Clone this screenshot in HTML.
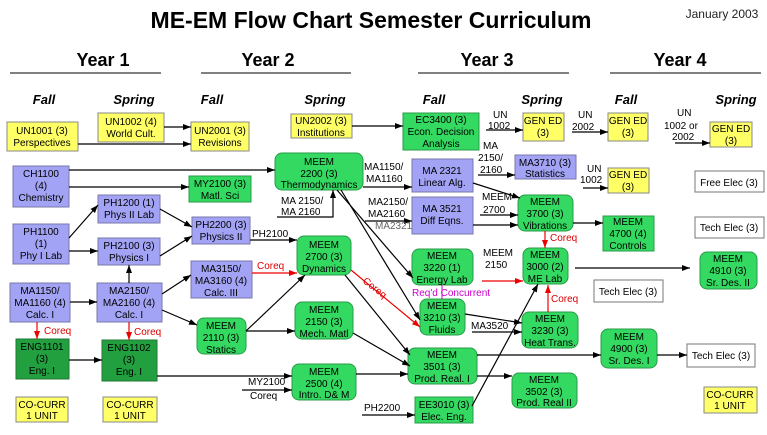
<!DOCTYPE html>
<html><head><meta charset="utf-8"><style>
body{margin:0;background:#fff;}
svg text{font-family:"Liberation Sans",sans-serif;}
</style></head><body>
<svg width="767" height="430" viewBox="0 0 767 430" xmlns="http://www.w3.org/2000/svg">
<defs>
<marker id="a" markerWidth="8" markerHeight="6" refX="8" refY="3" orient="auto" markerUnits="userSpaceOnUse"><path d="M0,0L8,3L0,6z" fill="#000"/></marker>
<marker id="r" markerWidth="8" markerHeight="6" refX="8" refY="3" orient="auto" markerUnits="userSpaceOnUse"><path d="M0,0L8,3L0,6z" fill="#e00"/></marker>
</defs>
<text x="371" y="28" font-size="23" font-weight="bold" text-anchor="middle">ME-EM Flow Chart Semester Curriculum</text>
<text x="722" y="18" font-size="12" text-anchor="middle" fill="#222">January 2003</text>
<g font-size="18" font-weight="bold" text-anchor="middle">
<text x="103" y="66">Year 1</text><text x="268" y="66">Year 2</text><text x="487" y="66">Year 3</text><text x="680" y="66">Year 4</text></g>
<g stroke="#000" stroke-width="1"><line x1="10" y1="73" x2="161" y2="73"/><line x1="201" y1="73" x2="351" y2="73"/><line x1="418" y1="73" x2="569" y2="73"/><line x1="610" y1="73" x2="761" y2="73"/></g>
<g font-size="13" font-weight="bold" font-style="italic" text-anchor="middle">
<text x="44" y="104">Fall</text><text x="134" y="104">Spring</text><text x="212" y="104">Fall</text><text x="325" y="104">Spring</text><text x="434" y="104">Fall</text><text x="542" y="104">Spring</text><text x="626" y="104">Fall</text><text x="736" y="104">Spring</text></g>

<g stroke="#888" stroke-width="1">
<g fill="#ffff66">
<rect x="7" y="122" width="71" height="29"/><rect x="98" y="113" width="66" height="29"/><rect x="191" y="122" width="58" height="29"/><rect x="291" y="114" width="61" height="24"/>
<rect x="523" y="113" width="41" height="28"/><rect x="608" y="113" width="40" height="28"/><rect x="710" y="122" width="42" height="25"/><rect x="608" y="168" width="41" height="25"/>
<rect x="16" y="397" width="52" height="25"/><rect x="103" y="397" width="54" height="25"/><rect x="704" y="387" width="53" height="26"/>
</g>
<g fill="#a3a3f5" stroke="#7777aa">
<rect x="13" y="166" width="56" height="41"/><rect x="98" y="195" width="62" height="28"/><rect x="13" y="224" width="56" height="40"/><rect x="98" y="238" width="62" height="27"/>
<rect x="192" y="217" width="58" height="27"/><rect x="191" y="261" width="61" height="37"/><rect x="10" y="283" width="60" height="39"/><rect x="97" y="283" width="65" height="39"/>
<rect x="412" y="159" width="61" height="33"/><rect x="412" y="197" width="61" height="37"/><rect x="515" y="155" width="61" height="24"/>
</g>
<g fill="#33d960" stroke="#2a9a4a">
<rect x="189" y="176" width="62" height="26"/><rect x="403" y="113" width="76" height="37"/><rect x="603" y="216" width="51" height="35"/><rect x="415" y="397" width="58" height="26"/>
<rect x="275" y="153" width="88" height="37" rx="7"/><rect x="297" y="236" width="54" height="39" rx="7"/><rect x="295" y="302" width="58" height="37" rx="7"/>
<rect x="197" y="318" width="49" height="36" rx="7"/><rect x="292" y="364" width="64" height="36" rx="7"/>
<rect x="518" y="195" width="55" height="36" rx="7"/><rect x="412" y="249" width="61" height="36" rx="7"/><rect x="523" y="248" width="45" height="36" rx="7"/>
<rect x="700" y="252" width="57" height="37" rx="7"/><rect x="420" y="299" width="45" height="36" rx="7"/><rect x="522" y="312" width="56" height="36" rx="7"/>
<rect x="601" y="329" width="56" height="39" rx="7"/><rect x="408" y="348" width="69" height="36" rx="7"/><rect x="512" y="373" width="65" height="35" rx="7"/>
</g>
<g fill="#22a040" stroke="#227733"><rect x="16" y="339" width="53" height="40"/><rect x="102" y="340" width="55" height="41"/></g>
<g fill="#fff" stroke="#777"><rect x="695" y="171" width="69" height="21"/><rect x="695" y="217" width="69" height="21"/><rect x="594" y="280" width="69" height="22"/><rect x="687" y="344" width="68" height="23"/></g>
</g>

<g font-size="10" text-anchor="middle" fill="#000">
<text x="42" y="134">UN1001 (3)</text><text x="42" y="146">Perspectives</text>
<text x="131" y="125">UN1002 (4)</text><text x="131" y="137">World Cult.</text>
<text x="220" y="134">UN2001 (3)</text><text x="220" y="146">Revisions</text>
<text x="321" y="124">UN2002 (3)</text><text x="321" y="136">Institutions</text>
<text x="441" y="123">EC3400 (3)</text><text x="441" y="135">Econ. Decision</text><text x="441" y="147">Analysis</text>
<text x="543" y="124">GEN ED</text><text x="543" y="136">(3)</text>
<text x="628" y="124">GEN ED</text><text x="628" y="136">(3)</text>
<text x="731" y="132">GEN ED</text><text x="731" y="144">(3)</text>
<text x="628" y="178">GEN ED</text><text x="628" y="190">(3)</text>
<text x="41" y="177">CH1100</text><text x="41" y="189">(4)</text><text x="41" y="201">Chemistry</text>
<text x="220" y="187">MY2100 (3)</text><text x="220" y="199">Matl. Sci</text>
<text x="319" y="165">MEEM</text><text x="319" y="177">2200 (3)</text><text x="319" y="188">Thermodynamics</text>
<text x="129" y="206">PH1200 (1)</text><text x="129" y="218">Phys II Lab</text>
<text x="41" y="235">PH1100</text><text x="41" y="247">(1)</text><text x="41" y="259">Phy I Lab</text>
<text x="129" y="249">PH2100 (3)</text><text x="129" y="261">Physics I</text>
<text x="221" y="228">PH2200 (3)</text><text x="221" y="240">Physics II</text>
<text x="324" y="248">MEEM</text><text x="324" y="260">2700 (3)</text><text x="324" y="272">Dynamics</text>
<text x="221" y="272">MA3150/</text><text x="221" y="284">MA3160 (4)</text><text x="221" y="296">Calc. III</text>
<text x="40" y="294">MA1150/</text><text x="40" y="306">MA1160 (4)</text><text x="40" y="318">Calc. I</text>
<text x="129" y="294">MA2150/</text><text x="129" y="306">MA2160 (4)</text><text x="129" y="318">Calc. I</text>
<text x="324" y="313">MEEM</text><text x="324" y="325">2150 (3)</text><text x="324" y="337">Mech. Matl</text>
<text x="221" y="329">MEEM</text><text x="221" y="341">2110 (3)</text><text x="221" y="353">Statics</text>
<text x="42" y="350">ENG1101</text><text x="42" y="362">(3)</text><text x="42" y="374">Eng. I</text>
<text x="129" y="351">ENG1102</text><text x="129" y="363">(3)</text><text x="129" y="375">Eng. I</text>
<text x="324" y="375">MEEM</text><text x="324" y="387">2500 (4)</text><text x="324" y="398">Intro. D&amp; M</text>
<text x="42" y="408">CO-CURR</text><text x="42" y="419">1 UNIT</text>
<text x="130" y="408">CO-CURR</text><text x="130" y="419">1 UNIT</text>
<text x="730" y="398">CO-CURR</text><text x="730" y="409">1 UNIT</text>
<text x="442" y="174">MA 2321</text><text x="442" y="186">Linear Alg.</text>
<text x="442" y="212">MA 3521</text><text x="442" y="224">Diff Eqns.</text>
<text x="545" y="166">MA3710 (3)</text><text x="545" y="177">Statistics</text>
<text x="545" y="205">MEEM</text><text x="545" y="217">3700 (3)</text><text x="545" y="229">Vibrations</text>
<text x="628" y="225">MEEM</text><text x="628" y="237">4700 (4)</text><text x="628" y="249">Controls</text>
<text x="729" y="186">Free Elec (3)</text><text x="729" y="231">Tech Elec (3)</text><text x="628" y="295">Tech Elec (3)</text><text x="721" y="359">Tech Elec (3)</text>
<text x="442" y="259">MEEM</text><text x="442" y="271">3220 (1)</text><text x="442" y="283">Energy Lab</text>
<text x="545" y="258">MEEM</text><text x="545" y="270">3000 (2)</text><text x="545" y="282">ME Lab</text>
<text x="728" y="262">MEEM</text><text x="728" y="274">4910 (3)</text><text x="728" y="286">Sr. Des. II</text>
<text x="442" y="309">MEEM</text><text x="442" y="321">3210 (3)</text><text x="442" y="333">Fluids</text>
<text x="550" y="322">MEEM</text><text x="550" y="334">3230 (3)</text><text x="550" y="346">Heat Trans.</text>
<text x="629" y="340">MEEM</text><text x="629" y="352">4900 (3)</text><text x="629" y="364">Sr. Des. I</text>
<text x="442" y="358">MEEM</text><text x="442" y="370">3501 (3)</text><text x="442" y="382">Prod. Real. I</text>
<text x="544" y="383">MEEM</text><text x="544" y="395">3502 (3)</text><text x="544" y="406">Prod. Real II</text>
<text x="444" y="408">EE3010 (3)</text><text x="444" y="420">Elec. Eng.</text>
</g>

<g stroke="#000" stroke-width="1.2" fill="none" marker-end="url(#a)">
<line x1="164" y1="127" x2="191" y2="127"/><line x1="78" y1="144" x2="191" y2="144"/><line x1="352" y1="126" x2="403" y2="126"/>
<line x1="69" y1="170" x2="275" y2="170"/><line x1="69" y1="187" x2="189" y2="187"/>
<line x1="69" y1="238" x2="98" y2="205"/><line x1="69" y1="251" x2="98" y2="251"/>
<line x1="160" y1="209" x2="192" y2="227"/><line x1="160" y1="256" x2="192" y2="236"/>
<line x1="129" y1="283" x2="129" y2="265"/><line x1="70" y1="302" x2="97" y2="302"/>
<line x1="162" y1="294" x2="191" y2="275"/><line x1="162" y1="310" x2="197" y2="325"/>
<line x1="69" y1="360" x2="102" y2="360"/><line x1="157" y1="376" x2="292" y2="376"/>
<line x1="242" y1="390" x2="292" y2="390"/>
<line x1="250" y1="240" x2="297" y2="240"/>
<line x1="246" y1="331" x2="305" y2="275"/><line x1="246" y1="331" x2="295" y2="331"/>
<polyline points="277,217 333,217 333,190"/>
<line x1="363" y1="187" x2="412" y2="187"/><line x1="365" y1="221" x2="412" y2="221"/>
<line x1="337" y1="190" x2="413" y2="278"/><line x1="341" y1="190" x2="420" y2="320"/>
<line x1="345" y1="275" x2="410" y2="355"/><line x1="353" y1="333" x2="410" y2="366"/><line x1="356" y1="374" x2="408" y2="374"/>
<line x1="362" y1="415" x2="415" y2="415"/>
<line x1="473" y1="183" x2="520" y2="198"/><line x1="480" y1="215" x2="518" y2="215"/><line x1="473" y1="225" x2="518" y2="225"/>
<line x1="478" y1="175" x2="515" y2="175"/>
<line x1="486" y1="130" x2="523" y2="130"/><line x1="572" y1="132" x2="608" y2="132"/><line x1="675" y1="143" x2="710" y2="143"/><line x1="583" y1="188" x2="608" y2="188"/>
<line x1="573" y1="223" x2="603" y2="223"/><line x1="575" y1="268" x2="690" y2="268"/>
<line x1="465" y1="314" x2="522" y2="323"/><line x1="472" y1="332" x2="522" y2="332"/>
<line x1="477" y1="355" x2="601" y2="355"/><line x1="477" y1="376" x2="512" y2="376"/><line x1="657" y1="355" x2="687" y2="355"/>
<line x1="472" y1="406" x2="538" y2="284"/>
</g>
<g stroke="#e00" stroke-width="1.2" marker-end="url(#r)">
<line x1="37" y1="322" x2="37" y2="339"/><line x1="129" y1="322" x2="129" y2="340"/>
<line x1="252" y1="273" x2="297" y2="273"/><line x1="351" y1="270" x2="420" y2="327"/>
<line x1="545" y1="231" x2="545" y2="248"/><line x1="482" y1="281" x2="523" y2="281"/><line x1="548" y1="312" x2="548" y2="285"/>
</g>
<line x1="442" y1="285" x2="442" y2="299" stroke="#c0c" stroke-width="1"/>

<g font-size="10" fill="#000">
<text x="252" y="237">PH2100</text>
<text x="248" y="385">MY2100</text><text x="250" y="399">Coreq</text>
<text x="281" y="204">MA 2150/</text><text x="281" y="215">MA 2160</text>
<text x="364" y="170">MA1150/</text><text x="366" y="182">MA1160</text>
<text x="368" y="205">MA2150/</text><text x="368" y="217">MA2160</text><text x="375" y="229" fill="#666">MA2321</text>
<text x="364" y="411">PH2200</text>
<text x="483" y="149">MA</text><text x="478" y="161">2150/</text><text x="480" y="173">2160</text>
<text x="482" y="200">MEEM</text><text x="483" y="213">2700</text>
<text x="493" y="118">UN</text><text x="488" y="129">1002</text>
<text x="578" y="118">UN</text><text x="572" y="130">2002</text>
<text x="677" y="116">UN</text><text x="664" y="129">1002 or</text><text x="672" y="140">2002</text>
<text x="587" y="172">UN</text><text x="580" y="183">1002</text>
<text x="483" y="256">MEEM</text><text x="485" y="268">2150</text>
<text x="471" y="329">MA3520</text>
</g>
<g font-size="10" fill="#d00">
<text x="44" y="334">Coreq</text><text x="134" y="335">Coreq</text><text x="257" y="269">Coreq</text>
<text x="550" y="241">Coreq</text><text x="551" y="302">Coreq</text>
<text x="362" y="282" transform="rotate(38 362 282)">Coreq</text>
</g>
<text x="412" y="296" font-size="10" fill="#c0c">Req'd Concurrent</text>
</svg>
</body></html>
